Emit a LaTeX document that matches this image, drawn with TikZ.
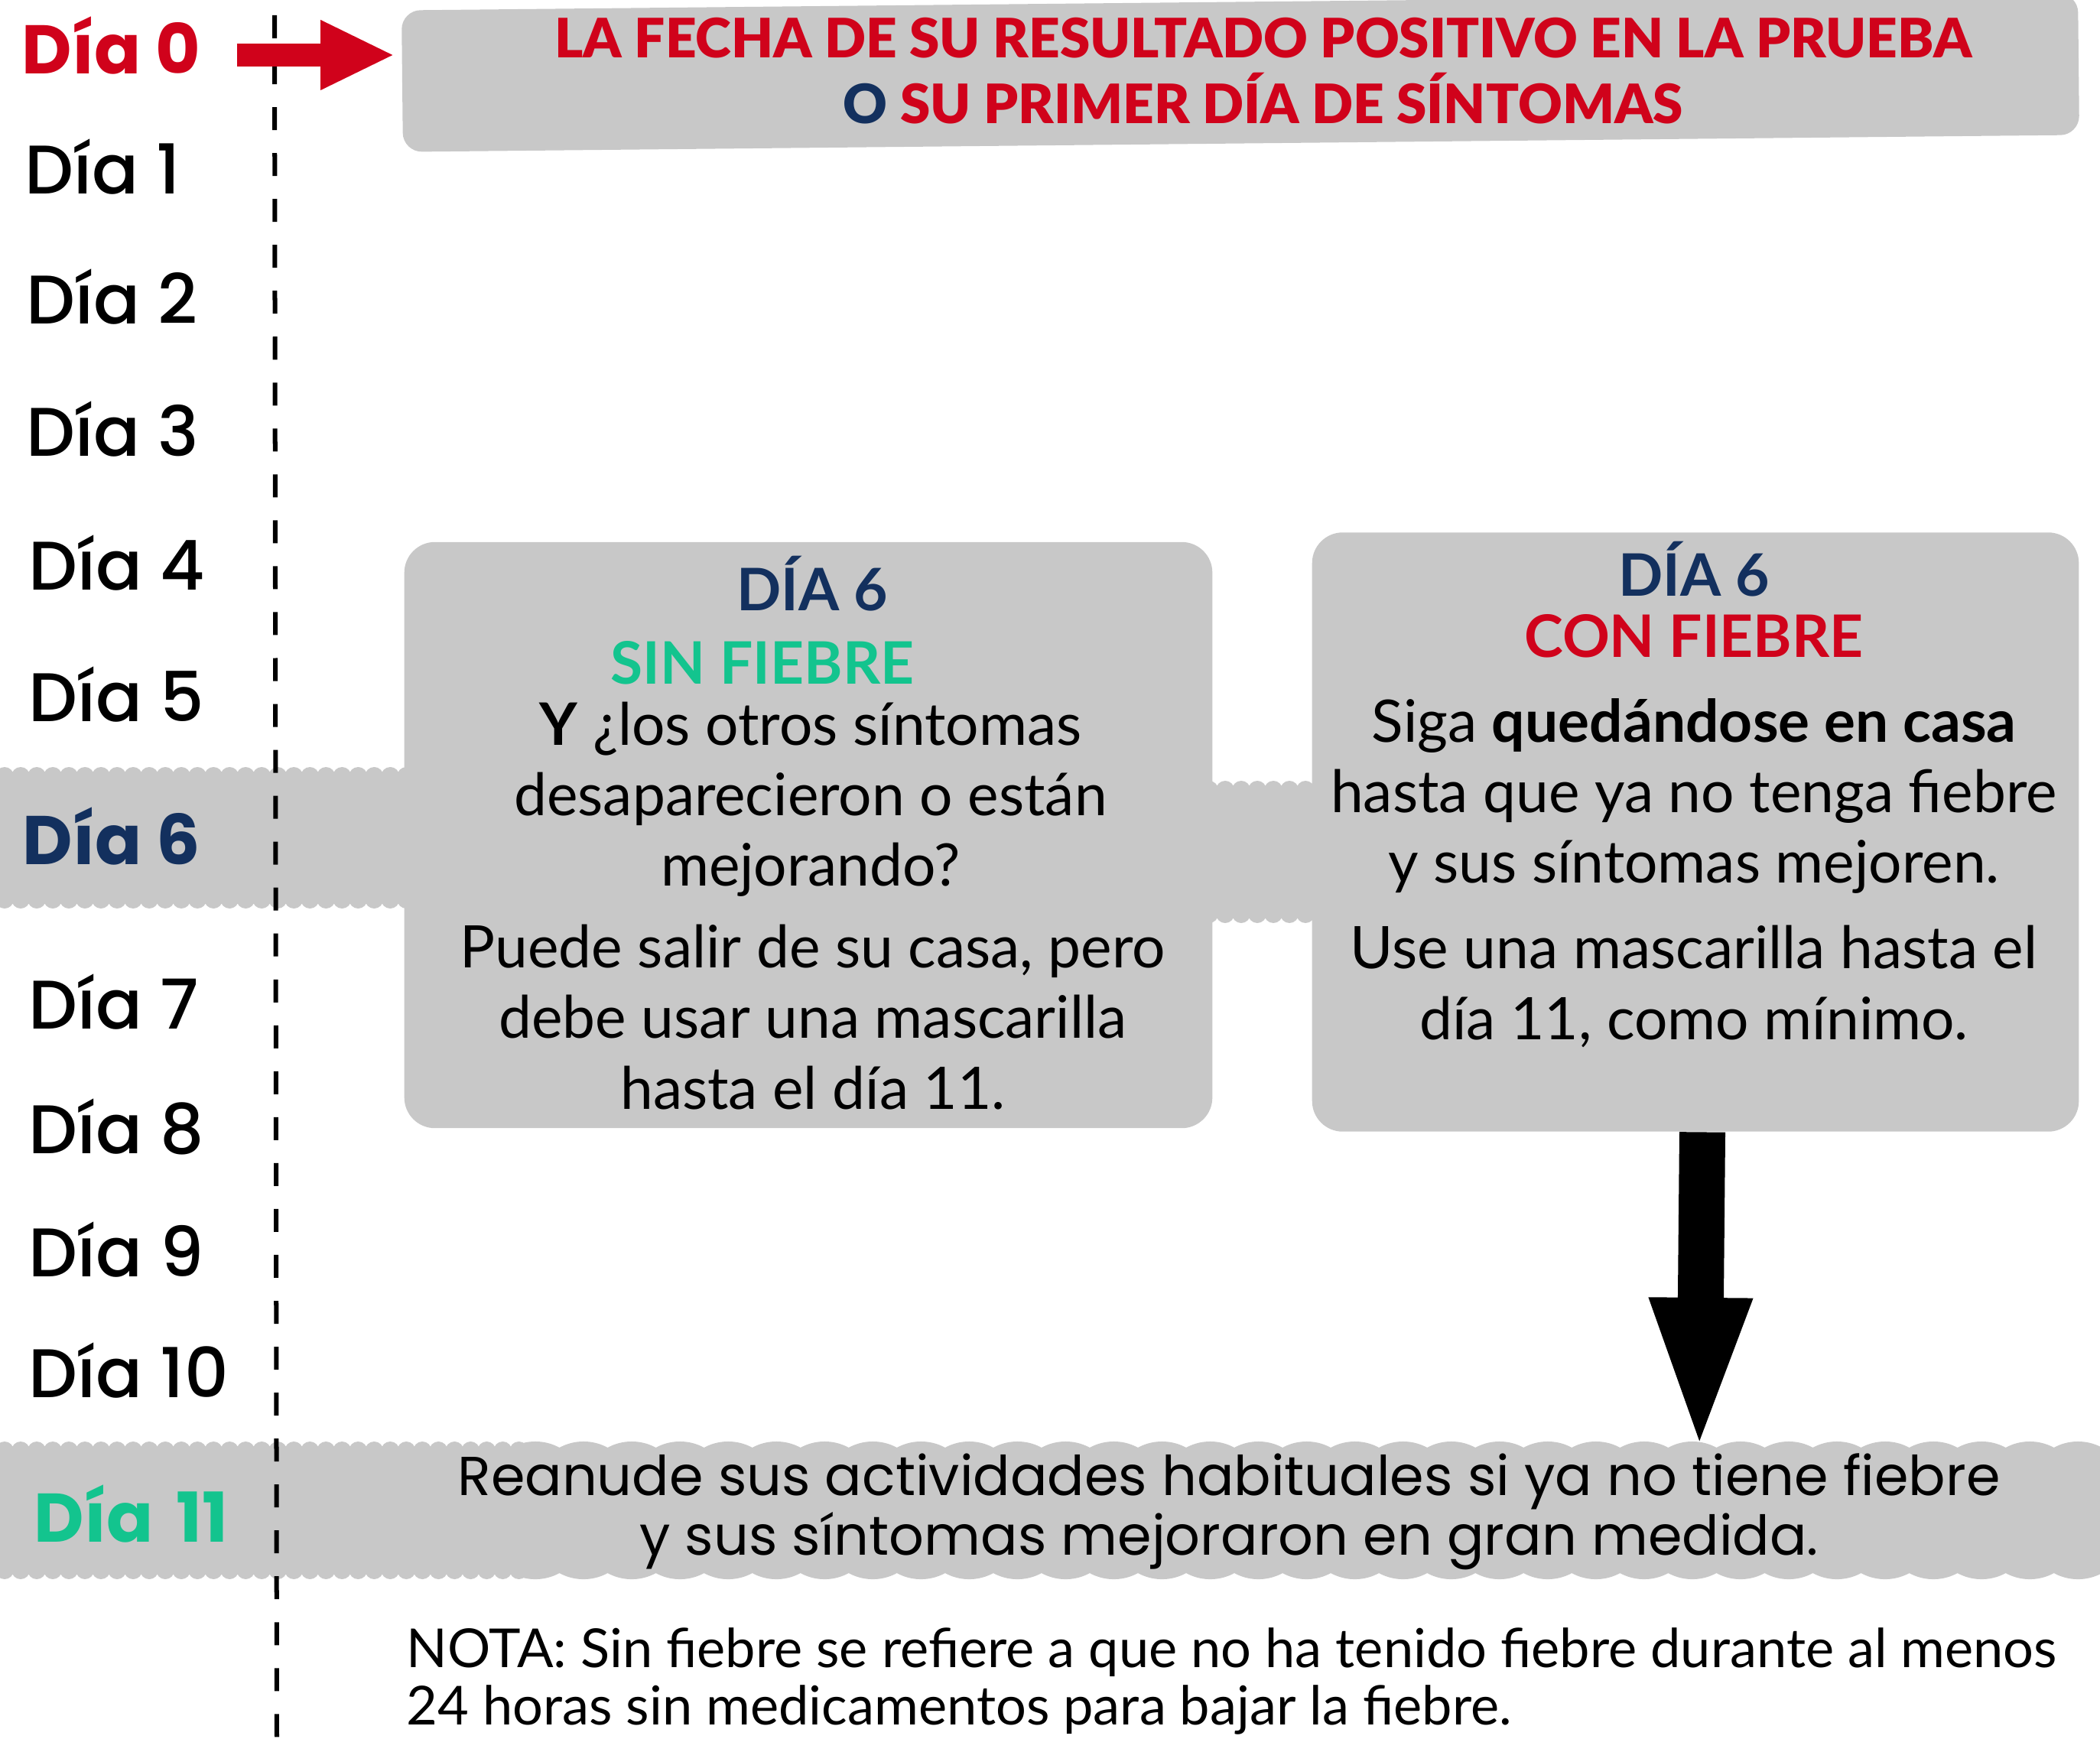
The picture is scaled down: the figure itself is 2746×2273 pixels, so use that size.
\documentclass[tikz,border=0pt]{standalone}
\usepackage{fontspec}
\usetikzlibrary{arrows.meta}
\setmainfont{Lato}
\IfFontExistsTF{Poppins Medium}{\newfontfamily\dayfont{Poppins Medium}}{\newfontfamily\dayfont{Poppins}}
\newfontfamily\daybold{Poppins}
\newfontfamily\resumefont{Poppins}
\IfFontExistsTF{Lato Black}{\newfontfamily\headfont{Lato Black}}{\newcommand*\headfont{\bfseries}}
\definecolor{boxgray}{RGB}{200,200,200}
\definecolor{dayred}{RGB}{208,2,27}
\definecolor{daynavy}{RGB}{19,48,94}
\definecolor{daygreen}{RGB}{19,196,142}

\begin{document}
\begin{tikzpicture}[x=0.01cm, y=-0.01cm,
    daylabel/.style={anchor=base west, inner sep=0pt, font=\dayfont\fontsize{25.6pt}{30pt}\selectfont},
    daykey/.style={daylabel, font=\daybold\bfseries\fontsize{25.6pt}{30pt}\selectfont},
    graybox/.style={fill=boxgray, rounded corners=0.4cm, inner sep=0pt},
    titletext/.style={anchor=base, inner sep=0pt, font=\bfseries\fontsize{21.8pt}{26pt}\selectfont},
    bodytext/.style={align=center, inner sep=0pt, font=\fontsize{21.8pt}{26.2pt}\selectfont},
    bump/.style={boxgray, line cap=round, dash pattern=on 0cm off 0.21cm, line width=0.24cm},
    bigbump/.style={boxgray, line cap=round, dash pattern=on 0cm off 0.63cm, line width=1.32cm},
    redarrow/.style={dayred, line width=0.3cm, -{Triangle[length=0.97cm, width=0.84cm]}},
    downarrow/.style={black, line width=0.6cm, -{Triangle[length=2.06cm, width=1.18cm]}}]
    \useasboundingbox (0,0) rectangle (2746,2273);

    % scalloped bands for day 6 and day 11
    \fill[boxgray] (0,1011) rectangle (560,1180);
    \draw[bump] (6,1015) -- (560,1015);
    \draw[bump] (6,1176) -- (560,1176);
    \fill[boxgray] (1560,1029) rectangle (1740,1199);
    \draw[bump] (1560,1033) -- (1740,1033);
    \draw[bump] (1560,1195) -- (1740,1195);
    \fill[boxgray] (0,1893) rectangle (2746,2057);
    \draw[bump] (6,1897) -- (680,1897);
    \draw[bump] (6,2053) -- (680,2053);
    \draw[bigbump] (700,1951) -- (2780,1951);
    \draw[bigbump] (700,1999) -- (2780,1999);

    % time line
    \draw[line width=0.06cm, dash pattern=on 0.3cm off 0.3cm] (359,20) -- (362,2273);

    % day labels
    \node[daykey, dayred] (day0) at (28,97) {Día 0};
    \node[daylabel] (day1) at (32,254) {Día 1};
    \node[daylabel] (day2) at (34,423) {Día 2};
    \node[daylabel] (day3) at (34,596) {Día 3};
    \node[daylabel] (day4) at (37,771) {Día 4};
    \node[daylabel] (day5) at (37,943) {Día 5};
    \node[daykey, daynavy] (day6) at (29,1130) {Día 6};
    \node[daylabel] (day7) at (37,1345) {Día 7};
    \node[daylabel] (day8) at (37,1508) {Día 8};
    \node[daylabel] (day9) at (37,1669) {Día 9};
    \node[daylabel] (day10) at (37,1827) {Día 10};
    \node[daykey, daygreen] (day11) at (44,2016) {Día\,\,11};

    % Draw blocks
    \node[graybox, rounded corners=0.25cm, rotate=0.58, minimum width=21.91cm, minimum height=1.85cm] (banner) at (1622,95) {};
    \node[graybox, minimum width=10.56cm, minimum height=7.66cm] (sinfiebre) at (1057,1092) {};
    \node[graybox, minimum width=10.02cm, minimum height=7.83cm] (confiebre) at (2217,1088) {};

    \node[align=center, inner sep=0pt, font=\headfont\fontsize{20.2pt}{24.5pt}\selectfont] (heading) at (1652,93)
        {\textcolor{dayred}{LA FECHA DE SU RESULTADO POSITIVO EN LA PRUEBA}\\
         \textcolor{daynavy}{O} \textcolor{dayred}{SU PRIMER DÍA DE SÍNTOMAS}};

    \node[titletext, daynavy] (sinday) at (1062,798) {DÍA 6};
    \node[titletext, daygreen] (sinlabel) at (997,894) {SIN FIEBRE};
    \node[bodytext] (sinask) at (1060,1045) {\textbf{Y} ¿los otros síntomas\\ desaparecieron o están\\ mejorando?};
    \node[bodytext] (sinmask) at (1063,1330) {Puede salir de su casa, pero\\ debe usar una mascarilla\\ hasta el día 11.};

    \node[titletext, daynavy] (conday) at (2215,779) {DÍA 6};
    \node[titletext, dayred] (conlabel) at (2215,859) {CON FIEBRE};
    \node[bodytext] (constay) at (2215,1041) {Siga \textbf{quedándose en casa}\\ hasta que ya no tenga fiebre\\ y sus síntomas mejoren.};
    \node[bodytext] (conmask) at (2215,1290) {Use una mascarilla hasta el\\ día 11, como mínimo.};

    \node[align=center, inner sep=0pt, font=\resumefont\fontsize{20.4pt}{20.6pt}\selectfont] (resume) at (1607,1977)
        {Reanude sus actividades habituales si ya no tiene fiebre\\ y sus síntomas mejoraron en gran medida.};

    \node[anchor=north west, align=left, inner sep=0pt, font=\fontsize{20pt}{21.3pt}\selectfont] (nota) at (531,2128)
        {NOTA: Sin fiebre se refiere a que no ha tenido fiebre durante al menos\\ 24 horas sin medicamentos para bajar la fiebre.};

    % arrows
    \coordinate (d0tail) at ([xshift=0.47cm, yshift=0.25cm]day0.base east);
    \draw[redarrow, shorten >=0.09cm] (d0tail) -- (banner.west |- d0tail);
    \coordinate (resumetip) at (2222,1903);
    \draw[downarrow] ([xshift=0.09cm]confiebre.south) -- (resumetip);
\end{tikzpicture}
\end{document}
